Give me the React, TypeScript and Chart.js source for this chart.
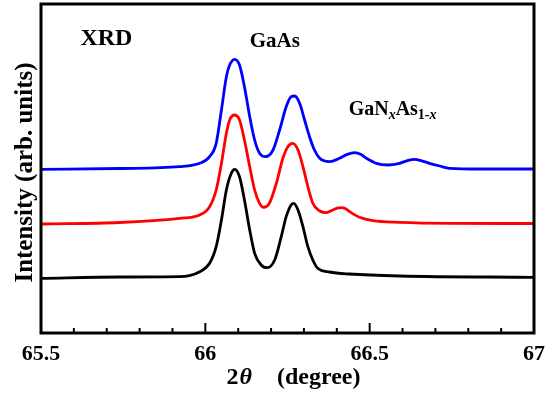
import { useEffect, useRef } from "react";
import { Chart, registerables } from "chart.js";

Chart.register(...registerables);

// ---- data ----
const xMin = 65.5;
const xMax = 67;
const majorTicks = [65.5, 66, 66.5, 67];
const majorTickLabels = ["65.5", "66", "66.5", "67"];

const blueX = [65.5, 65.739, 65.922, 65.983, 66.013, 66.033, 66.049, 66.064, 66.074, 66.089, 66.104, 66.119, 66.135, 66.15, 66.165, 66.183, 66.206, 66.226, 66.246, 66.261, 66.272, 66.287, 66.302, 66.317, 66.332, 66.348, 66.378, 66.408, 66.432, 66.454, 66.474, 66.49, 66.52, 66.555, 66.591, 66.615, 66.636, 66.658, 66.682, 66.713, 66.743, 66.834, 67.0];
const blueY = [163.7, 164.5, 166.3, 169.7, 176.3, 189.7, 223, 256.3, 268, 273.7, 268, 246.3, 216.3, 193, 179.7, 176.3, 183, 203, 226.3, 236.3, 237, 229.7, 213, 196.3, 183, 174.7, 171.3, 174.7, 178.6, 180.3, 178.4, 174.7, 169.7, 168, 169.7, 172.4, 173.7, 172.2, 169.7, 167, 164.7, 164, 164];

const redX = [65.5, 65.739, 65.922, 65.983, 66.013, 66.033, 66.049, 66.064, 66.074, 66.089, 66.104, 66.119, 66.135, 66.15, 66.165, 66.177, 66.195, 66.216, 66.236, 66.251, 66.266, 66.282, 66.297, 66.312, 66.327, 66.348, 66.368, 66.388, 66.401, 66.414, 66.427, 66.439, 66.469, 66.51, 66.591, 66.743, 67.0];
const redY = [109, 110.5, 114.7, 118, 126.3, 143, 169.7, 199.7, 213, 218, 213, 193, 166.3, 143, 129.7, 125.7, 129.7, 149.7, 174.7, 186.3, 189.7, 183, 166.3, 146.3, 129.7, 122, 120.3, 123, 124.8, 125.4, 124.2, 121.3, 115.7, 112.3, 110.7, 109.7, 109.5];

const blackX = [65.5, 65.739, 65.922, 65.983, 66.013, 66.033, 66.049, 66.064, 66.079, 66.089, 66.104, 66.119, 66.135, 66.15, 66.17, 66.188, 66.211, 66.231, 66.246, 66.261, 66.269, 66.282, 66.297, 66.312, 66.327, 66.342, 66.378, 66.439, 66.591, 67.0];
const blackY = [54.7, 56, 56.3, 61.3, 69.7, 86.3, 113, 143, 159.7, 163.7, 156.3, 133, 103, 79.7, 68, 65.3, 73, 96.3, 116.3, 128, 129.7, 123, 106.3, 86.3, 73, 64.7, 61, 59, 57, 55.7];

const yMin = 0;
const yMax = 329;

// annotation anchors in data units
const xrdPos = { x: 65.62, y: 288 };
const gaasPos = { x: 66.135, y: 286 };
const ganasPos = { x: 66.436, y: 218 };

const SERIF = "'Liberation Serif', 'Times New Roman', serif";

function toPoints(xs: number[], ys: number[]) {
  return xs.map((x, i) => ({ x, y: ys[i] }));
}

const framePlugin = {
  id: "frameAndText",
  afterDraw(chart: any) {
    const ctx: CanvasRenderingContext2D = chart.ctx;
    const { left, right, top, bottom } = chart.chartArea;
    const xs = chart.scales.x;
    const ys = chart.scales.y;
    ctx.save();

    // ticks (inward, bottom axis)
    ctx.strokeStyle = "#000";
    ctx.lineWidth = 2;
    for (const t of xs.ticks) {
      const v = t.value;
      const isMajor = Math.abs(v * 2 - Math.round(v * 2)) < 1e-6;
      const px = xs.getPixelForValue(v);
      const len = isMajor ? 10 : 5;
      ctx.beginPath();
      ctx.moveTo(px, bottom);
      ctx.lineTo(px, bottom - len);
      ctx.stroke();
    }

    // frame
    ctx.lineWidth = 3;
    ctx.strokeRect(left, top, right - left, bottom - top);

    // tick labels
    ctx.fillStyle = "#000";
    ctx.font = `bold 22px ${SERIF}`;
    ctx.textAlign = "center";
    ctx.textBaseline = "alphabetic";
    majorTicks.forEach((v, i) => {
      ctx.fillText(majorTickLabels[i], xs.getPixelForValue(v), bottom + 27);
    });

    // x title: 2θ   (degree)
    const cx = (left + right) / 2;
    const base = bottom + 51;
    ctx.textAlign = "left";
    ctx.font = `bold 24px ${SERIF}`;
    ctx.fillText("2", cx - 61, base);
    const w2 = ctx.measureText("2").width;
    ctx.font = `italic bold 24px ${SERIF}`;
    ctx.fillText("θ", cx - 61 + w2 + 1, base);
    ctx.font = `bold 24px ${SERIF}`;
    ctx.fillText("(degree)", cx - 10.5, base);

    // y title
    ctx.save();
    ctx.translate(32, (top + bottom) / 2 + 4);
    ctx.rotate(-Math.PI / 2);
    ctx.textAlign = "center";
    ctx.font = `bold 25px ${SERIF}`;
    ctx.fillText("Intensity (arb. units)", 0, 0);
    ctx.restore();

    // annotations
    ctx.textAlign = "left";
    ctx.font = `bold 24px ${SERIF}`;
    ctx.fillText("XRD", xs.getPixelForValue(xrdPos.x), ys.getPixelForValue(xrdPos.y));
    ctx.font = `bold 21px ${SERIF}`;
    ctx.fillText("GaAs", xs.getPixelForValue(gaasPos.x), ys.getPixelForValue(gaasPos.y));

    // GaN_x As_{1-x}
    let gx = xs.getPixelForValue(ganasPos.x);
    const gy = ys.getPixelForValue(ganasPos.y);
    const parts: [string, string, number][] = [
      ["GaN", `bold 20px ${SERIF}`, 0],
      ["x", `italic bold 14px ${SERIF}`, 4],
      ["As", `bold 20px ${SERIF}`, 0],
      ["1-", `bold 14px ${SERIF}`, 4],
      ["x", `italic bold 14px ${SERIF}`, 4],
    ];
    for (const [txt, font, dy] of parts) {
      ctx.font = font;
      ctx.fillText(txt, gx, gy + dy);
      gx += ctx.measureText(txt).width;
    }

    ctx.restore();
  },
};

export default function App() {
  const canvasRef = useRef<HTMLCanvasElement | null>(null);

  useEffect(() => {
    document.body.style.margin = "0";
    const canvas = canvasRef.current;
    if (!canvas) return;
    const common = {
      showLine: true,
      pointRadius: 0,
      borderWidth: 2.8,
      fill: false,
      cubicInterpolationMode: "monotone" as const,
    };
    const chart = new Chart(canvas, {
      type: "scatter",
      data: {
        datasets: [
          { ...common, label: "blue", data: toPoints(blueX, blueY), borderColor: "#0000ff" },
          { ...common, label: "red", data: toPoints(redX, redY), borderColor: "#ff0000" },
          { ...common, label: "black", data: toPoints(blackX, blackY), borderColor: "#000000" },
        ],
      },
      options: {
        responsive: false,
        animation: false,
        devicePixelRatio: 1,
        layout: { padding: { top: 4, right: 20, left: 0, bottom: 0 } },
        plugins: { legend: { display: false }, tooltip: { enabled: false } },
        scales: {
          x: {
            type: "linear",
            min: xMin,
            max: xMax,
            ticks: { display: false, stepSize: 0.1 },
            grid: { display: false },
            border: { display: false },
            afterFit: (s: any) => {
              s.height = 61;
            },
          },
          y: {
            type: "linear",
            min: yMin,
            max: yMax,
            ticks: { display: false },
            grid: { display: false },
            border: { display: false },
            afterFit: (s: any) => {
              s.width = 41;
            },
          },
        },
      },
      plugins: [framePlugin],
    });
    return () => chart.destroy();
  }, []);

  return (
    <div style={{ position: "fixed", left: 0, top: 0, width: 554, height: 394, background: "#fff" }}>
      <canvas ref={canvasRef} width={554} height={394} style={{ display: "block" }} />
    </div>
  );
}
